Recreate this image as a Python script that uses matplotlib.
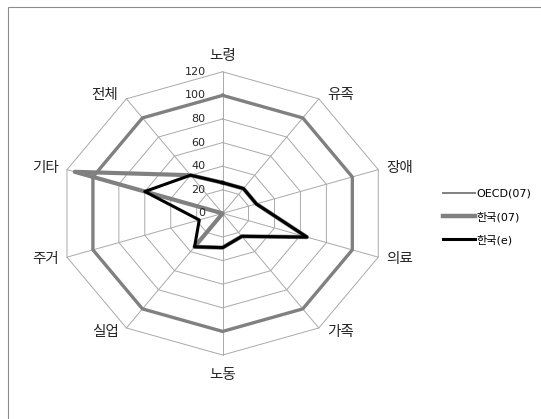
import numpy as np
import matplotlib.pyplot as plt
from matplotlib.patches import Rectangle

plt.rcParams['font.family'] = ['Noto Sans CJK KR', 'DejaVu Sans']

# data
categories = ['노령', '유족', '장애', '의료', '가족', '노동', '실업', '주거', '기타', '전체']
oecd_07 = [100, 100, 100, 100, 100, 100, 100, 100, 100, 100]
korea_07 = [26, 26, 26, 65, 24, 29, 35, 0, 114, 40]
korea_e = [26, 26, 26, 65, 24, 29, 35, 18, 60, 40]
r_ticks = [0, 20, 40, 60, 80, 100, 120]

n = len(categories)
theta = np.linspace(0, 2 * np.pi, n, endpoint=False)
theta_c = np.append(theta, theta[0])


def closed(v):
    return np.append(v, v[0])


fig = plt.figure(figsize=(5.41, 4.19), dpi=100)

# chart area border (only left/top edges are visible in the crop)
fig.patches.append(Rectangle((8 / 541, -0.1), 1.2, 1.1 - 7 / 419,
                             transform=fig.transFigure, fill=False,
                             edgecolor='#8c8c8c', lw=0.8))

ax = fig.add_axes([0.109, 0.1527, 0.605, 0.676], projection='polar')
ax.set_aspect('auto')
ax.set_theta_zero_location('N')
ax.set_theta_direction(-1)
ax.set_ylim(0, 120)
ax.grid(False)
ax.spines['polar'].set_visible(False)
ax.set_xticks([])
ax.set_yticks([])

# polygon grid + spokes
grid_c = '#a9a9a9'
for r in r_ticks[1:]:
    ax.plot(theta_c, [r] * (n + 1), color=grid_c, lw=0.7, clip_on=False, zorder=1)
for t in theta:
    ax.plot([t, t], [0, 120], color=grid_c, lw=0.7, clip_on=False, zorder=1)

ax.plot(theta_c, closed(oecd_07), color='#808080', lw=2.4, label='OECD(07)',
        clip_on=False, zorder=3)
ax.plot(theta_c, closed(korea_07), color='#808080', lw=3.0, label='한국(07)',
        clip_on=False, zorder=3)
ax.plot(theta_c, closed(korea_e), color='black', lw=2.2, label='한국(e)',
        clip_on=False, zorder=4)

# value labels along the top spoke
for v in r_ticks:
    ax.annotate(str(v), xy=(0, v), xytext=(-17, 0), textcoords='offset pixels',
                ha='right', va='center', fontsize=8, color='#262626',
                family=['DejaVu Sans'])

# category labels
for t, name in zip(theta, categories):
    s, c = np.sin(t), np.cos(t)
    if abs(s) < 1e-6:
        dx, dy = 0, (16 if c > 0 else -20)
        ha = 'center'
    else:
        dx, dy = 8 * np.sign(s), 5 * c
        ha = 'left' if s > 0 else 'right'
    ax.annotate(name, xy=(t, 120), xytext=(dx, dy), textcoords='offset pixels',
                ha=ha, va='center', fontsize=10.5, color='#262626')

leg = fig.legend(loc='center left', bbox_to_anchor=(443 / 541, 1 - 217 / 419),
                 frameon=False, handlelength=2.9, handletextpad=0.1,
                 labelspacing=1.15, borderpad=0, borderaxespad=0,
                 prop={'family': ['DejaVu Sans', 'Noto Sans CJK KR'], 'size': 8})
lws = [1.4, 3.2, 2.2]
for line, lw in zip(leg.get_lines(), lws):
    line.set_linewidth(lw)

fig.savefig('out.png', dpi=100)
